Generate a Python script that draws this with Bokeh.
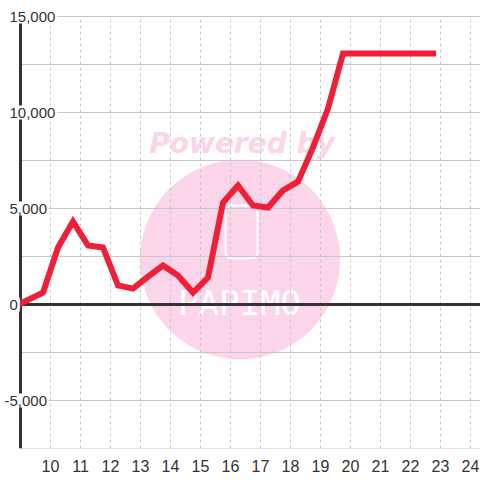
from bokeh.plotting import figure
from bokeh.models import FixedTicker, Label, Range1d
from bokeh.core.properties import value
from bokeh.embed import file_html
from bokeh.resources import INLINE

# ---- data ----
hours = [9.0, 9.75, 10.25, 10.75, 11.25, 11.75, 12.25, 12.75, 13.25, 13.75,
         14.25, 14.75, 15.25, 15.75, 16.25, 16.75, 17.25, 17.75, 18.25, 18.75,
         19.25, 19.75, 20.25, 20.75, 21.25, 21.75, 22.25, 22.75]
values = [50, 620, 2970, 4320, 3070, 2970, 990, 830, 1450, 2030,
          1510, 620, 1400, 5310, 6200, 5160, 5050, 5940, 6400, 8180,
          10210, 13070, 13070, 13070, 13070, 13070, 13070, 13070]

x_ticks = [10, 11, 12, 13, 14, 15, 16, 17, 18, 19, 20, 21, 22, 23, 24]
y_grid = [-7500, -5000, -2500, 0, 2500, 5000, 7500, 10000, 12500, 15000]
y_label_values = [15000, 10000, 5000, 0, -5000]
y_label_texts = ["15,000", "10,000", "5,000", "0", "-5,000"]

# axis extents
X0 = 9                      # where the y axis sits
X_LEFT = X0 - 20 / 30       # space left of the axis for labels
X_MAX = X0 + 460 / 30
Y_MIN, Y_TOP = -7500, 15000
Y_MAX = Y_TOP + 16 / 48 * 2500

FONT = "Liberation Sans"
TXT = "#333333"
PINK = "#fbd5ea"
GRID = "#c8c8c8"

p = figure(width=480, height=480, output_backend="svg", toolbar_location=None,
           x_range=Range1d(X_LEFT, X_MAX), y_range=Range1d(Y_MIN, Y_MAX),
           y_axis_location=None,
           min_border_left=0, min_border_right=0, min_border_top=0,
           min_border_bottom=32,
           background_fill_color="white", border_fill_color="white")
p.outline_line_color = None
p.xgrid.visible = False
p.ygrid.visible = False

# x axis
p.xaxis.ticker = FixedTicker(ticks=x_ticks)
p.xaxis.axis_line_color = None
p.xaxis.major_tick_line_color = None
p.xaxis.minor_tick_line_color = None
p.xaxis.major_label_text_font = FONT
p.xaxis.major_label_text_font_size = "16px"
p.xaxis.major_label_text_color = TXT
p.xaxis.major_label_standoff = 5

# watermark (behind grid)
def sx(px):
    return X0 + (px - 20) / 30

def sy(py):
    return (304 - py) / 48 * 2500

p.scatter([sx(239.5)], [sy(259)], marker="circle", size=200, fill_color=PINK,
          line_color=None, level="image")
p.text([sx(241.5)], [sy(143)], text=["Powered by"],
       text_font=value("DejaVu Sans"), text_font_style="bold italic",
       text_font_size="28px", text_color=PINK, text_align="center",
       text_baseline="alphabetic", level="image")
p.rect([sx(241)], [sy(231.5)], width=32, height=53,
       width_units="screen", height_units="screen", fill_color=None,
       line_color="white", line_width=2, border_radius=6, level="image")
p.text([sx(239)], [sy(302)], text=["PAPIMO"],
       text_font=value("DejaVu Sans Mono"), text_font_size="34px",
       text_color="white", text_align="center", text_baseline="alphabetic",
       level="image")

# grid lines
n_h = len(y_grid)
p.segment(x0=[X0] * n_h, y0=y_grid, x1=[X_MAX] * n_h, y1=y_grid,
          line_color=GRID, line_width=1, level="underlay")
n_v = len(x_ticks)
p.segment(x0=x_ticks, y0=[Y_MIN] * n_v, x1=x_ticks, y1=[Y_TOP] * n_v,
          line_color=GRID, line_width=1, line_dash="3 3", level="underlay")

# axis lines
p.segment(x0=[X0], y0=[0], x1=[X_MAX], y1=[0], line_color=TXT, line_width=3,
          level="underlay")
p.segment(x0=[X0], y0=[Y_MIN], x1=[X0], y1=[Y_TOP], line_color=TXT,
          line_width=3, level="underlay")

# series
p.line(hours, values, line_color="#ee1f36", line_width=6, line_join="miter",
       line_cap="square")

# y labels with white background, over the axis
for v, t in zip(y_label_values, y_label_texts):
    off = 7 - (5 if t.startswith("-") else 0)
    p.add_layout(Label(x=X_LEFT, y=v, x_offset=off, text=t, text_align="left",
                       text_baseline="middle", text_font=FONT,
                       text_font_size="15px", text_color=TXT,
                       background_fill_color="white", padding=2))

open("out.html", "w").write(file_html(p, INLINE))
